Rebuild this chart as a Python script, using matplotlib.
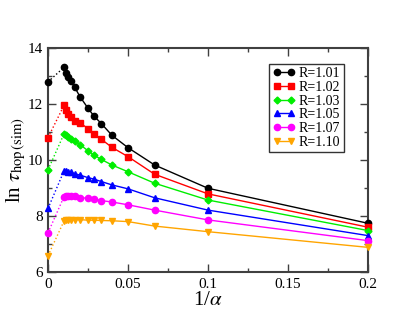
import numpy as np
import matplotlib
matplotlib.use('Agg')
import matplotlib.pyplot as plt

plt.rcParams['font.family'] = ['Liberation Serif', 'DejaVu Serif']
plt.rcParams['mathtext.fontset'] = 'stix'

inv_alpha = [0, 1/100, 1/90, 1/80, 1/70, 1/60, 1/50, 1/40, 1/35, 1/30, 1/25, 1/20, 1/15, 1/10, 1/5]

labels = ['R=1.01', 'R=1.02', 'R=1.03', 'R=1.05', 'R=1.07', 'R=1.10']
colors = ['black', 'red', '#00ee00', 'blue', 'magenta', 'orange']
markers = ['o', 's', 'D', '^', 'o', 'v']

ln_tau_101 = [12.79, 13.31, 13.12, 12.98, 12.82, 12.60, 12.26, 11.85, 11.58, 11.30, 10.88, 10.44, 9.82, 8.99, 7.74]
ln_tau_102 = [10.80, 11.95, 11.80, 11.65, 11.55, 11.40, 11.33, 11.12, 10.93, 10.74, 10.45, 10.12, 9.49, 8.79, 7.60]
ln_tau_103 = [9.65, 10.93, 10.88, 10.82, 10.76, 10.68, 10.55, 10.33, 10.18, 10.02, 9.82, 9.58, 9.17, 8.57, 7.48]
ln_tau_105 = [8.27, 9.61, 9.61, 9.58, 9.56, 9.51, 9.46, 9.37, 9.32, 9.23, 9.11, 8.97, 8.65, 8.21, 7.30]
ln_tau_107 = [7.40, 8.69, 8.70, 8.71, 8.71, 8.70, 8.66, 8.63, 8.60, 8.55, 8.50, 8.40, 8.21, 7.86, 7.12]
ln_tau_110 = [6.58, 7.82, 7.84, 7.84, 7.86, 7.87, 7.87, 7.85, 7.85, 7.84, 7.83, 7.80, 7.64, 7.44, 6.88]
series = [ln_tau_101, ln_tau_102, ln_tau_103, ln_tau_105, ln_tau_107, ln_tau_110]

fig = plt.figure(figsize=(4.15, 3.21), dpi=100)
ax = fig.add_axes([48/415, 1 - 272/321, 320/415, 224/321])

for y, c, m, lab in zip(series, colors, markers, labels):
    ms = {'o': 4.5, 's': 4, 'D': 3.5, '^': 4.5, 'v': 4.5}[m]
    # dotted link to the alpha -> infinity point
    ax.plot(inv_alpha[:2], y[:2], ':', color=c, lw=1)
    ax.plot(inv_alpha[0], y[0], m, color=c, ms=ms, clip_on=False, zorder=5)
    ax.plot(inv_alpha[1:], y[1:], '-', color=c, lw=1, marker=m, ms=ms,
            label=lab, clip_on=False, zorder=4)

ax.set_xlim(0, 0.2)
ax.set_ylim(6, 14)
ax.set_xticks([0, 0.05, 0.1, 0.15, 0.2])
ax.set_xticklabels(['0', '0.05', '0.1', '0.15', '0.2'])
ax.set_xticks(np.arange(0.025, 0.2, 0.05), minor=True)
ax.set_yticks([6, 8, 10, 12, 14])
ax.set_yticks([7, 9, 11, 13], minor=True)
ax.tick_params(which='both', direction='in', top=True, right=True, labelsize=11, color='#404040')
ax.tick_params(which='major', length=6, width=1)
ax.tick_params(which='minor', length=3, width=1)
ax.tick_params(axis='x', pad=4)
for s in ax.spines.values():
    s.set_color('#404040')
    s.set_linewidth(1.5)

ax.set_xlabel(r'1/$\alpha$', fontsize=15, labelpad=0)
ax.set_ylabel(r'ln $\tau_{\mathrm{hop\,(sim)}}$', fontsize=15, labelpad=0)

leg = ax.legend(loc='upper right', bbox_to_anchor=(0.925, 0.93), numpoints=2,
                fontsize=10, frameon=True, fancybox=False, handlelength=1.6,
                handletextpad=0.3, labelspacing=0.05, borderpad=0.25, borderaxespad=0)
leg.get_frame().set_edgecolor('black')
leg.get_frame().set_linewidth(1)

fig.savefig('out.png', dpi=100)
